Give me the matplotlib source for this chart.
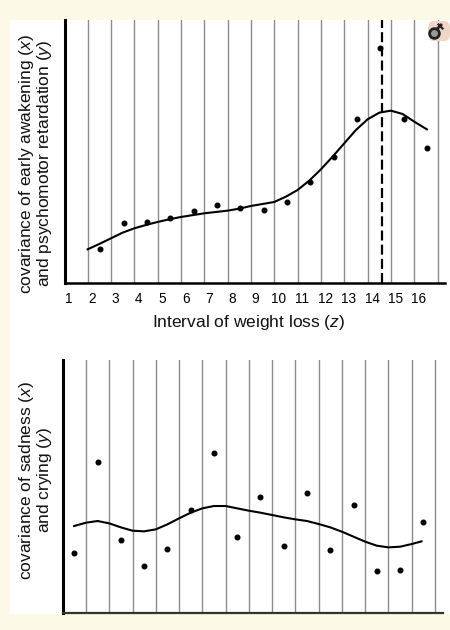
import matplotlib
matplotlib.use("Agg")
import matplotlib.pyplot as plt
from matplotlib.patches import Rectangle, FancyBboxPatch
from matplotlib.lines import Line2D

plt.rcParams['font.family'] = ['Liberation Sans', 'DejaVu Sans']
plt.rcParams['mathtext.fontset'] = 'custom'
plt.rcParams['mathtext.rm'] = 'Liberation Sans'
plt.rcParams['mathtext.it'] = 'Liberation Sans:italic'
plt.rcParams['lines.scale_dashes'] = False

# ---------------- data ----------------
tick_labels = [str(i) for i in range(1, 17)]

# top panel: intervals 2..16
top_intervals = list(range(2, 17))
top_values = [10.3, 18.2, 18.5, 19.5, 21.8, 23.4, 22.7, 22.0, 24.5, 30.5, 38.0, 49.4, 70.5, 49.2, 40.7]
top_curve_x = [1.0, 1.5, 2.0, 2.5, 3.0, 3.5, 4.0, 4.5, 5.0, 6.0, 7.0, 7.5, 8.0, 9.0, 9.5, 10.0,
               10.5, 11.0, 11.5, 12.0, 12.5, 13.0, 13.5, 14.0, 14.5, 15.0, 15.54]
top_curve_y = [10.2, 11.8, 13.5, 15.2, 16.5, 17.5, 18.4, 19.2, 19.9, 21.0, 21.8, 22.4, 23.2, 24.4, 26.0, 28.0,
               30.8, 34.2, 38.0, 42.0, 46.0, 49.2, 51.2, 51.8, 50.8, 48.5, 46.2]
dashed_x = 13.62

# bottom panel: intervals 1..16
bot_intervals = list(range(1, 17))
bot_values = [17.8, 45.1, 21.8, 13.9, 19.0, 30.7, 47.8, 22.7, 34.6, 20.0, 35.8, 18.8, 32.4, 12.6, 12.9, 27.1]
bot_curve_x = [0.49, 1.0, 1.5, 2.0, 2.5, 3.0, 3.5, 4.0, 4.5, 5.0, 5.5, 6.0, 6.5, 7.0, 7.5, 8.0, 8.5,
               9.0, 9.5, 10.0, 10.5, 11.0, 11.5, 12.0, 12.5, 13.0, 13.5, 14.0, 14.5, 15.0, 15.42]
bot_curve_y = [26.0, 27.0, 27.5, 26.8, 25.6, 24.6, 24.4, 25.0, 26.5, 28.3, 30.0, 31.3, 32.0, 32.0, 31.3, 30.6, 30.0,
               29.3, 28.6, 28.0, 27.5, 26.6, 25.6, 24.3, 22.8, 21.3, 20.1, 19.6, 19.8, 20.6, 21.4]

top_ylabel = [r'covariance of early awakening ($\mathit{x}$)', r'and psychomotor retardation ($\mathit{y}$)']
bot_ylabel = [r'covariance of sadness ($\mathit{x}$)', r'and crying ($\mathit{y}$)']
xlabel = r'Interval of weight loss ($\mathit{z}$)'

# ---------------- figure ----------------
W, H = 450, 630
fig = plt.figure(figsize=(W / 100, H / 100), dpi=100)
fig.patch.set_facecolor('#fdf9e7')


def px(x, y):
    return x / W, 1 - y / H


# white panel
fig.patches.append(Rectangle(px(10, 614), 440 / W, 594 / H, transform=fig.transFigure,
                             facecolor='white', edgecolor='none', zorder=-10))

GRID = '#8c8c8c'
LBL = 12.5


def make_axes(left, top, right, bottom):
    l, b = px(left, bottom)
    ax = fig.add_axes([l, b, (right - left) / W, (bottom - top) / H])
    ax.set_facecolor('none')
    ax.set_zorder(1)
    for s in ['top', 'right']:
        ax.spines[s].set_visible(False)
    ax.set_yticks([])
    return ax


# ---- top panel ----
ax1 = make_axes(65, 20, 445, 283.3)
x0 = 0.03
ax1.set_xlim(x0, x0 + 380 / 23.33)
ax1.set_ylim(0, 79)
for k in range(1, 17):
    ax1.axvline(k, color=GRID, lw=1.0, zorder=1)
ax1.spines['left'].set_linewidth(2.2)
ax1.spines['bottom'].set_linewidth(1.8)
ax1.spines['left'].set_color('black')
ax1.spines['bottom'].set_color('black')
ax1.set_xticks([int(t) - 0.8 for t in tick_labels])
ax1.set_xticklabels(tick_labels, fontsize=9.8)
ax1.tick_params(axis='x', length=0, pad=6)
ax1.plot([k - 0.46 for k in top_intervals], top_values, 'o', color='black', ms=3.3, zorder=3)
ax1.plot(top_curve_x, top_curve_y, color='black', lw=1.5, zorder=3)
ax1.axvline(dashed_x, color='black', lw=1.6, dashes=(7.2, 3.0), zorder=4)

# ---- bottom panel ----
ax2 = make_axes(62.7, 360, 442.7, 612.7)
ax2.set_xlim(0, 380 / 23.27)
ax2.set_ylim(0, 75.8)
for k in range(1, 17):
    ax2.axvline(k, color=GRID, lw=1.0, zorder=1)
ax2.spines['left'].set_linewidth(2.2)
ax2.spines['bottom'].set_linewidth(1.6)
ax2.spines['left'].set_color('black')
ax2.spines['bottom'].set_color('#333333')
ax2.set_xticks([])
ax2.plot([k - 0.5 for k in bot_intervals], bot_values, 'o', color='black', ms=3.3, zorder=3)
ax2.plot(bot_curve_x, bot_curve_y, color='black', lw=1.5, zorder=3)

# ---- labels ----
def ylab(lines, yc):
    for i, (t, xb) in enumerate(zip(lines, [30.5, 49.5])):
        fig.text(*px(xb, yc + (0 if i == 0 else -1)), t, rotation=90, rotation_mode='anchor',
                 ha='center', va='baseline', fontsize=LBL, color='#111111')


ylab(top_ylabel, 164)
ylab(bot_ylabel, 481)
fig.text(*px(249, 327), xlabel, ha='center', va='baseline', fontsize=LBL, color='#111111')

# ---- small icon at top right ----
icon = FancyBboxPatch(px(428, 41), 22 / W, 20 / H, boxstyle='round,pad=0,rounding_size=0.012',
                      transform=fig.transFigure, facecolor='#efd6c6', edgecolor='none', zorder=5)
fig.patches.append(icon)
fig.lines.append(Line2D([436.5 / W, 441 / W], [1 - 29.5 / H, 1 - 25 / H], transform=fig.transFigure,
                        color='#222222', lw=2.0, zorder=6))
fig.lines.append(Line2D([438.5 / W, 442.5 / W], [1 - 24.5 / H, 1 - 28.5 / H], transform=fig.transFigure,
                        color='#222222', lw=1.6, zorder=6))
fig.lines.append(Line2D([433.5 / W], [1 - 33 / H], transform=fig.transFigure, marker='o', ms=7,
                        mfc='#9a9a9a', mec='#222222', mew=2.0, zorder=7))

fig.savefig('out.png', dpi=100, facecolor=fig.get_facecolor())
